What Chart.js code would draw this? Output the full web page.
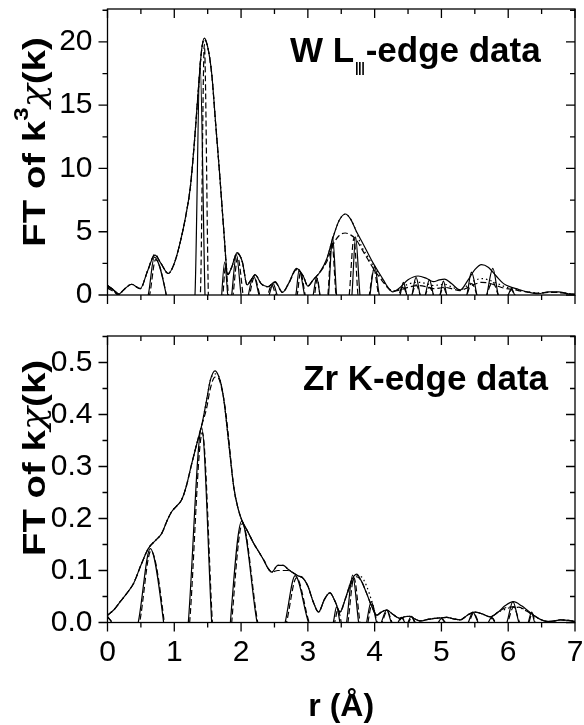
<!DOCTYPE html>
<html>
<head>
<meta charset="utf-8">
<script src="https://cdn.jsdelivr.net/npm/chart.js"></script>
<style>
  body { margin: 0; background: #fff; }
  #wrap { position: relative; width: 584px; height: 725px; }
  canvas { position: absolute; left: 0; }
</style>
</head>
<body>
<div id="wrap">
  <canvas id="topChart" width="584" height="320" style="top:0"></canvas>
  <canvas id="botChart" width="584" height="405" style="top:320px"></canvas>
</div>
<script>
// ---- W L3-edge panel: magnitude of FT (exp solid, fit dashed, fit dotted)
const rTopMag = [0,0.08,0.16,0.26,0.36,0.49,0.6,0.71,0.8,0.91,1.0,1.09,1.17,1.24,1.3,1.36,1.41,1.45,1.5,1.56,1.62,1.68,1.74,1.8,1.86,1.94,2.02,2.09,2.15,2.21,2.3,2.4,2.51,2.62,2.72,2.83,2.93,3.0,3.08,3.18,3.28,3.38,3.47,3.56,3.64,3.72,3.8,3.9,3.98,4.06,4.13,4.2,4.27,4.38,4.5,4.65,4.78,4.88,4.97,5.05,5.15,5.28,5.4,5.5,5.6,5.7,5.82,5.93,6.05,6.15,6.28,6.45,6.6,6.75,6.9,7.0];
const topMagExp = [0.75,0.45,0.05,0.5,0.85,0.5,1.9,3.15,2.5,1.7,2.5,4.2,6.2,8.5,12.0,16.2,19.4,20.3,19.6,17.5,13.5,9.5,5.2,1.6,2.2,3.35,2.6,0.8,1.2,1.6,0.9,0.65,1.05,0.2,1.0,2.1,1.5,0.7,1.2,1.8,2.8,4.6,5.9,6.4,6.0,5.1,4.3,3.3,2.5,1.8,1.2,0.6,0.25,0.6,1.2,1.5,1.3,1.05,1.2,1.26,0.9,0.4,1.2,2.0,2.4,2.2,1.5,0.9,0.6,0.45,0.25,0.1,0.25,0.25,0.1,0.05];
const topMagFit1 = [0.75,0.45,0.05,0.5,0.85,0.5,1.9,3.2,2.5,1.7,2.5,4.2,6.2,8.5,12.0,16.2,19.4,20.2,19.6,17.5,13.5,9.5,5.2,1.6,2.2,3.3,2.6,0.8,1.2,1.6,0.9,0.65,1.0,0.2,1.0,2.0,1.5,0.7,1.2,1.8,2.6,4.0,4.7,4.9,4.75,4.4,3.7,2.8,2.1,1.5,1.0,0.55,0.3,0.4,0.6,0.75,0.65,0.5,0.55,0.6,0.5,0.35,0.6,0.85,1.0,0.95,0.75,0.55,0.45,0.35,0.25,0.15,0.2,0.2,0.1,0.05];
const topMagFit2 = [0.75,0.45,0.05,0.5,0.85,0.5,1.9,3.2,2.5,1.7,2.5,4.2,6.2,8.5,12.0,16.2,19.4,20.2,19.6,17.5,13.5,9.5,5.2,1.6,2.2,3.3,2.6,0.8,1.2,1.6,0.9,0.65,1.0,0.2,1.0,2.0,1.5,0.7,1.2,1.8,2.8,4.6,5.9,6.4,6.0,5.1,3.9,3.0,2.3,1.7,1.1,0.6,0.3,0.5,0.85,1.0,0.9,0.75,0.8,0.85,0.65,0.4,0.8,1.15,1.3,1.2,0.95,0.7,0.5,0.4,0.25,0.15,0.2,0.2,0.1,0.05];

// ---- W L3-edge panel: oscillating part (exp solid, fit dashed)
const rTopOscA = [0,0.18,0.4,0.61,0.7,0.88,1.1,1.31,1.385,1.46,1.58,1.71,1.755,1.8,1.83,1.86,1.93,2.0,2.06,2.11,2.19,2.27,2.35,2.42,2.48,2.54,2.68,2.82,2.87,2.95,3.02,3.08,3.13,3.18,3.25,3.31,3.37,3.43,3.55,3.66,3.715,3.78,3.86,3.93,4.0,4.07,4.22,4.38,4.43,4.48,4.52,4.56,4.62,4.68,4.72,4.76,4.82,4.88,4.93,4.98,5.03,5.08,5.23,5.38,5.45,5.53,5.6,5.68,5.77,5.85,5.92,6.0,6.05,6.1,6.4,7.0];
const topOscA = [0.65,0,-2,0,3.0,0,-8,0,18.5,0,-15,0,2.6,0,-1.5,0,3.2,0,-2,0,1.5,0,-1,0,0.9,0,-1.5,0,2.0,0,-1.5,0,1.4,0,-3,0,4.6,0,-5,0,4.6,0,-3,0,2.3,0,-1,0,1.0,0,-1,0,1.4,0,-1,0,1.2,0,-1,0,1.1,0,-1.5,0,1.8,0,-2,0,2.1,0,-1,0,0.5,0,-0.3,0];
const rTopOscB = [0,0.15,0.4,0.63,0.72,0.88,1.1,1.39,1.45,1.51,1.6,1.73,1.77,1.81,1.845,1.88,1.95,2.03,2.08,2.13,2.2,2.28,2.34,2.4,2.46,2.52,2.68,2.84,2.89,2.96,3.03,3.1,3.14,3.18,3.24,3.3,3.36,3.42,3.52,3.62,3.69,3.75,3.84,3.92,3.99,4.06,4.2,4.36,4.42,4.48,4.52,4.56,4.62,4.68,4.72,4.76,4.82,4.88,4.93,4.98,5.03,5.08,5.23,5.38,5.45,5.53,5.6,5.68,5.77,5.85,5.92,6.0,6.05,6.1,6.4,7.0];
const topOscB = [0.55,0,-2,0,2.8,0,-8,0,19.8,0,-15,0,2.3,0,-1.5,0,3.0,0,-2,0,1.4,0,-1,0,0.8,0,-1.5,0,1.8,0,-1.5,0,1.3,0,-3,0,4.2,0,-5,0,4.5,0,-3,0,2.0,0,-1,0,0.7,0,-1,0,0.8,0,-1,0,0.6,0,-1,0,0.6,0,-1.5,0,0.9,0,-2,0,1.0,0,-1,0,0.4,0,-0.3,0];

// ---- Zr K-edge panel: magnitude
const rBotMag = [0,0.1,0.19,0.3,0.39,0.5,0.61,0.72,0.81,0.9,0.96,1.05,1.11,1.18,1.26,1.34,1.41,1.48,1.54,1.61,1.66,1.71,1.76,1.81,1.89,1.95,2.01,2.1,2.19,2.27,2.34,2.4,2.46,2.55,2.63,2.7,2.76,2.85,2.93,3.0,3.08,3.16,3.25,3.33,3.41,3.48,3.56,3.65,3.73,3.8,3.88,3.96,4.03,4.1,4.18,4.27,4.38,4.45,4.53,4.6,4.68,4.8,4.9,5.0,5.08,5.18,5.28,5.4,5.5,5.6,5.73,5.85,5.95,6.08,6.2,6.3,6.38,6.48,6.58,6.7,6.78,6.9,7.0];
const botMagExp = [0.014,0.025,0.04,0.058,0.075,0.11,0.142,0.158,0.171,0.198,0.213,0.226,0.236,0.262,0.305,0.345,0.379,0.425,0.466,0.484,0.475,0.453,0.41,0.351,0.261,0.222,0.197,0.175,0.152,0.135,0.12,0.105,0.097,0.11,0.11,0.103,0.097,0.09,0.085,0.07,0.04,0.02,0.045,0.057,0.04,0.02,0.045,0.08,0.093,0.08,0.056,0.03,0.014,0.02,0.024,0.016,0.008,0.011,0.012,0.007,0.003,0.006,0.008,0.009,0.01,0.007,0.005,0.015,0.02,0.017,0.011,0.02,0.032,0.04,0.032,0.022,0.014,0.006,0.002,0.003,0.005,0.004,0.002];
const botMagFit1 = [0.014,0.025,0.04,0.058,0.075,0.11,0.142,0.158,0.171,0.198,0.213,0.226,0.236,0.262,0.305,0.345,0.379,0.41,0.45,0.472,0.47,0.45,0.415,0.36,0.261,0.222,0.197,0.175,0.152,0.135,0.12,0.105,0.097,0.1,0.1,0.1,0.097,0.09,0.085,0.07,0.04,0.02,0.045,0.057,0.04,0.02,0.045,0.075,0.088,0.08,0.056,0.03,0.014,0.02,0.024,0.016,0.008,0.011,0.012,0.007,0.003,0.006,0.008,0.009,0.01,0.007,0.005,0.015,0.02,0.017,0.011,0.02,0.028,0.03,0.028,0.02,0.014,0.006,0.002,0.003,0.005,0.004,0.002];
const botMagFit2 = [0.014,0.025,0.04,0.058,0.075,0.11,0.142,0.158,0.171,0.198,0.213,0.226,0.236,0.262,0.305,0.345,0.379,0.425,0.466,0.478,0.475,0.453,0.41,0.351,0.261,0.222,0.197,0.175,0.152,0.135,0.12,0.105,0.097,0.11,0.11,0.103,0.097,0.09,0.085,0.07,0.04,0.02,0.045,0.057,0.04,0.02,0.045,0.08,0.09,0.088,0.07,0.04,0.014,0.02,0.024,0.016,0.008,0.011,0.012,0.007,0.003,0.006,0.008,0.009,0.01,0.007,0.005,0.015,0.02,0.017,0.011,0.02,0.025,0.03,0.027,0.02,0.014,0.006,0.002,0.003,0.005,0.004,0.002];

// ---- Zr K-edge panel: oscillating part
const rBotOscA = [0,0.06,0.25,0.46,0.64,0.84,1.02,1.21,1.41,1.56,1.7,1.84,2.01,2.24,2.45,2.66,2.81,3.01,3.2,3.38,3.43,3.48,3.53,3.58,3.67,3.76,3.82,3.88,3.95,4.03,4.07,4.1,4.18,4.25,4.3,4.35,4.4,4.45,4.48,4.5,4.55,4.6,4.78,4.95,5.0,5.05,5.22,5.4,5.47,5.55,5.62,5.7,5.75,5.8,5.89,5.98,6.07,6.16,6.23,6.3,6.35,6.4,6.7,7.0];
const botOscA = [0.012,0,-0.08,0,0.142,0,-0.25,0,0.375,0,-0.3,0,0.195,0,-0.1,0,0.09,0,-0.05,0,0.03,0,-0.04,0,0.091,0,-0.05,0,0.04,0,-0.01,0,0.024,0,-0.01,0,0.01,0,-0.01,0,0.012,0,-0.01,0,0.008,0,-0.01,0,0.02,0,-0.01,0,0.01,0,-0.02,0,0.04,0,-0.02,0,0.02,0,-0.003,0];
const rBotOscB = [0,0.07,0.26,0.48,0.65,0.85,1.03,1.23,1.42,1.57,1.71,1.86,2.02,2.25,2.46,2.68,2.83,3.02,3.21,3.4,3.45,3.5,3.55,3.6,3.69,3.78,3.84,3.9,3.96,4.04,4.08,4.11,4.19,4.26,4.31,4.36,4.41,4.46,4.49,4.51,4.56,4.61,4.79,4.96,5.01,5.06,5.23,5.41,5.48,5.56,5.63,5.71,5.76,5.81,5.9,5.99,6.08,6.17,6.24,6.31,6.36,6.41,6.71,7.0];
const botOscB = [0.01,0,-0.08,0,0.138,0,-0.25,0,0.365,0,-0.3,0,0.19,0,-0.1,0,0.086,0,-0.05,0,0.025,0,-0.04,0,0.086,0,-0.05,0,0.035,0,-0.01,0,0.022,0,-0.01,0,0.009,0,-0.01,0,0.01,0,-0.01,0,0.007,0,-0.01,0,0.018,0,-0.01,0,0.009,0,-0.02,0,0.03,0,-0.02,0,0.018,0,-0.003,0];

const FONT = '"Liberation Sans", Arial, Helvetica, sans-serif';
const GREEK = '"DejaVu Serif", serif';
Chart.defaults.font.family = FONT;
Chart.defaults.color = '#000';

const pts = (xs, ys) => xs.map((x, i) => ({x: x, y: ys[i]}));

const line = (data, dash) => ({
  data: data,
  borderColor: '#000',
  borderWidth: 1.2,
  borderDash: dash || [],
  pointRadius: 0,
  fill: false,
  cubicInterpolationMode: 'monotone'
});

const fontOf = p => (p.greek ? 'italic ' + p.size + 'px ' + GREEK : 'bold ' + p.size + 'px ' + FONT);

// frame, minor ticks, mirrored ticks and text
function decor(cfg) {
  return {
    id: 'decor',
    afterDraw(chart) {
      const {ctx, chartArea: a, scales: {x, y}} = chart;
      ctx.save();
      ctx.strokeStyle = '#000';
      ctx.lineWidth = 1.3;
      ctx.strokeRect(a.left, a.top, a.right - a.left, a.bottom - a.top);
      ctx.beginPath();
      for (let i = 0; i <= 14; i++) {
        const px = x.getPixelForValue(i * 0.5);
        const len = i % 2 ? 5 : 9;
        ctx.moveTo(px, a.bottom); ctx.lineTo(px, a.bottom + len);
        ctx.moveTo(px, a.top); ctx.lineTo(px, a.top + len);
      }
      for (let i = 0; i * cfg.yMinor <= y.max + 1e-9; i++) {
        const py = y.getPixelForValue(i * cfg.yMinor);
        const len = i % 2 ? 5 : 9;
        ctx.moveTo(a.left - len, py); ctx.lineTo(a.left, py);
        ctx.moveTo(a.right - len, py); ctx.lineTo(a.right, py);
      }
      ctx.stroke();

      // panel label
      ctx.fillStyle = '#000';
      ctx.textBaseline = 'alphabetic';
      ctx.textAlign = 'left';
      let tx = cfg.label.x;
      cfg.label.parts.forEach(p => {
        ctx.font = fontOf(p);
        const w = ctx.measureText(p.t).width;
        if (p.sub) {
          ctx.save();
          ctx.translate(tx + 1, cfg.label.y + 13);
          ctx.scale(0.6, 1);
          ctx.fillText(p.t, 0, 0);
          ctx.restore();
          tx += w * 0.6 + 2;
        } else {
          ctx.fillText(p.t, tx, cfg.label.y);
          tx += w;
        }
      });

      // y axis title, slightly stretched along the text
      const sx = 1.2;
      ctx.save();
      ctx.translate(cfg.yTitle.x, cfg.yTitle.y);
      ctx.rotate(-Math.PI / 2);
      ctx.scale(sx, 1);
      ctx.textBaseline = 'middle';
      let total = 0;
      cfg.yTitle.parts.forEach(p => {
        ctx.font = fontOf(p);
        total += ctx.measureText(p.t).width;
      });
      let ox = -total / 2;
      cfg.yTitle.parts.forEach(p => {
        ctx.font = fontOf(p);
        ctx.fillText(p.t, ox, p.dy || 0);
        ox += ctx.measureText(p.t).width;
      });
      ctx.restore();
      ctx.restore();
    }
  };
}

function makeChart(id, datasets, o) {
  return new Chart(document.getElementById(id), {
    type: 'line',
    data: {datasets: datasets},
    options: {
      responsive: false,
      animation: false,
      devicePixelRatio: 1,
      layout: {padding: {top: o.padTop, right: 9, left: 0, bottom: 0}},
      plugins: {legend: {display: false}, tooltip: {enabled: false}},
      scales: {
        x: {
          type: 'linear', min: 0, max: 7,
          grid: {display: false, drawTicks: false},
          border: {display: false},
          ticks: {display: o.xLabels, stepSize: 1, padding: 12, font: {size: 30}, color: '#000', maxRotation: 0},
          title: {display: o.xLabels, text: 'r (Å)', font: {size: 32, weight: 'bold', lineHeight: 1.1}, color: '#000', padding: 0},
          afterFit: s => { s.height = o.xHeight; s.paddingLeft = 0; s.paddingRight = 0; }
        },
        y: {
          type: 'linear', min: 0, max: o.yMax,
          grid: {display: false, drawTicks: false},
          border: {display: false},
          ticks: {stepSize: o.yStep, includeBounds: false, padding: 15, font: {size: 30}, color: '#000', callback: o.fmt},
          afterFit: s => { s.width = 107.5; s.paddingTop = 0; s.paddingBottom = 0; }
        }
      }
    },
    plugins: [decor(o.decor)]
  });
}

makeChart('topChart', [
  line(pts(rTopMag, topMagExp)),
  line(pts(rTopMag, topMagFit1), [6, 3]),
  line(pts(rTopMag, topMagFit2), [1.5, 3]),
  line(pts(rTopOscA, topOscA)),
  line(pts(rTopOscB, topOscB), [6, 3])
], {
  padTop: 9, xHeight: 25, xLabels: false, yMax: 22.6, yStep: 5,
  fmt: v => String(v),
  decor: {
    yMinor: 2.5,
    label: {x: 290, y: 62, parts: [{t: 'W L', size: 35}, {t: 'III', size: 19, sub: true}, {t: '-edge data', size: 35}]},
    yTitle: {x: 36, y: 142, parts: [{t: 'FT of k', size: 32}, {t: '3', size: 20, dy: -14}, {t: 'χ', size: 32, greek: true}, {t: '(k)', size: 32}]}
  }
});

makeChart('botChart', [
  line(pts(rBotMag, botMagExp)),
  line(pts(rBotMag, botMagFit1), [6, 3]),
  line(pts(rBotMag, botMagFit2), [1.5, 3]),
  line(pts(rBotOscA, botOscA)),
  line(pts(rBotOscB, botOscB), [6, 3])
], {
  padTop: 16, xHeight: 102.5, xLabels: true, yMax: 0.551, yStep: 0.1,
  fmt: v => v.toFixed(1),
  decor: {
    yMinor: 0.05,
    label: {x: 303, y: 70, parts: [{t: 'Zr K-edge data', size: 35}]},
    yTitle: {x: 36, y: 138, parts: [{t: 'FT of k', size: 32}, {t: 'χ', size: 32, greek: true}, {t: '(k)', size: 32}]}
  }
});
</script>
</body>
</html>
